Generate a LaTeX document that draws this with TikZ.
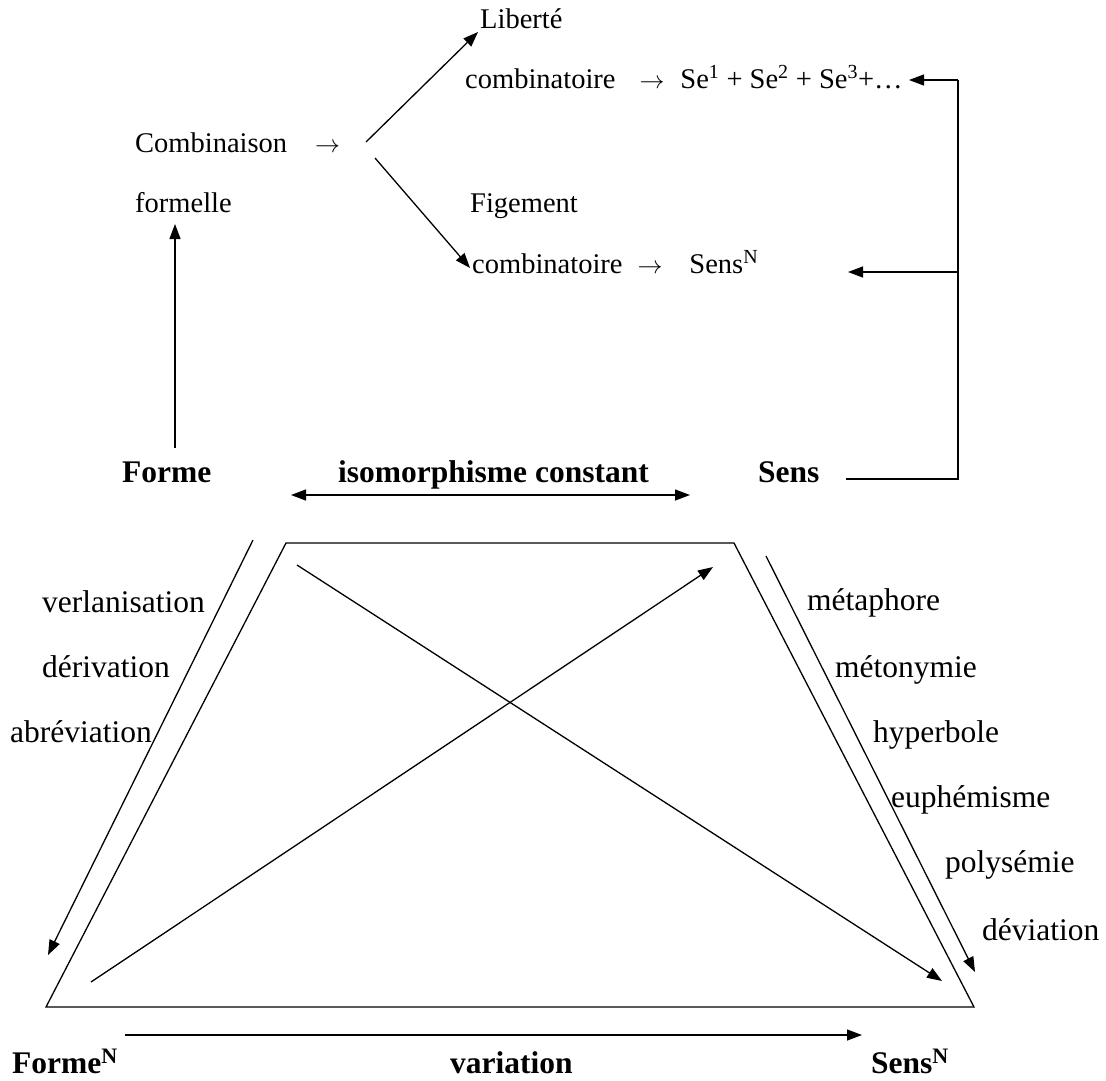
\documentclass[tikz,border=0pt]{standalone}
\usepackage{fontspec}
\setmainfont{Liberation Serif}
\usetikzlibrary{arrows.meta}
\newcommand{\rarr}[1]{{\fontsize{#1}{#1}\selectfont$\rightarrow$}}

\begin{document}
\begin{tikzpicture}[x=1pt, y=-1pt,
  lbl/.style={inner sep=0pt, anchor=base west, font=\fontsize{28.5}{30}\selectfont},
  lblbig/.style={inner sep=0pt, anchor=base west, font=\fontsize{31.5}{33}\selectfont},
  lblbold/.style={inner sep=0pt, anchor=base west, font=\fontsize{31.5}{33}\selectfont\bfseries},
  link/.style={line width=1.3pt},
  arr/.style={link, -{Triangle[length=15pt,width=11pt]}},
  dblarr/.style={link, {Triangle[length=15pt,width=11pt]}-{Triangle[length=15pt,width=11pt]}}]
  \useasboundingbox (0,0) rectangle (1106,1080);

  % upper scheme
  \node[lbl] (lib) at (480,28) {Liberté};
  \node[lbl] (libcomb) at (465,88) {combinatoire\hspace{24pt}\rarr{24}\hspace{16pt}Se\textsuperscript{1} + Se\textsuperscript{2} + Se\textsuperscript{3}+…};
  \node[lbl] (combi) at (135,152) {Combinaison\hspace{28pt}\rarr{27}};
  \node[lbl] (formelle) at (135,212) {formelle};
  \node[lbl] (fig) at (470,212) {Figement};
  \node[lbl] (figcomb) at (472,273) {combinatoire\hspace{15pt}\rarr{24}\hspace{27pt}Sens\textsuperscript{N}};

  \coordinate (split1) at (366,142);
  \coordinate (split2) at (375,158);
  \coordinate (libtip) at (478,32);
  \coordinate (figtip) at (470,268);
  \draw[arr] (split1) -- (libtip);
  \draw[arr] (split2) -- (figtip);

  % Forme / Sens
  \node[lblbold] (forme) at (122,482) {Forme};
  \node[lblbold] (iso) at (338,482) {isomorphisme constant};
  \node[lblbold] (sens) at (758,482) {Sens};

  \coordinate (formebot) at (175,448);
  \coordinate (formetip) at (175,224);
  \draw[arr] (formebot) -- (formetip);

  \coordinate (sensend) at (846,479);
  \coordinate (brbot) at (958,479);
  \coordinate (brtop) at (958,80);
  \coordinate (brmid) at (958,272);
  \coordinate (setip) at (909,80);
  \coordinate (sntip) at (848,272);
  \draw[link] (sensend) -- (brbot) -- (brtop);
  \draw[arr] (brtop) -- (setip);
  \draw[arr] (brmid) -- (sntip);

  \coordinate (isoL) at (291,495);
  \coordinate (isoR) at (690,495);
  \draw[dblarr] (isoL) -- (isoR);

  % trapezoid
  \coordinate (tl) at (286,543);
  \coordinate (tr) at (734,543);
  \coordinate (br) at (974,1007);
  \coordinate (bl) at (46,1007);
  \draw[link] (tl) -- (tr) -- (br) -- (bl) -- cycle;

  \coordinate (lftop) at (253,540);
  \coordinate (lftip) at (48,955);
  \coordinate (rttop) at (766,556);
  \coordinate (rttip) at (975,972);
  \draw[arr] (lftop) -- (lftip);
  \draw[arr] (rttop) -- (rttip);

  \coordinate (d1a) at (91,982);
  \coordinate (d1b) at (713,567);
  \coordinate (d2a) at (297,565);
  \coordinate (d2b) at (942,981);
  \draw[arr] (d1a) -- (d1b);
  \draw[arr] (d2a) -- (d2b);

  \coordinate (varL) at (125,1035);
  \coordinate (varR) at (862,1035);
  \draw[arr] (varL) -- (varR);

  % side labels
  \node[lblbig] (verl) at (42,612) {verlanisation};
  \node[lblbig] (deriv) at (42,677) {dérivation};
  \node[lblbig] (abrev) at (10,742) {abréviation};

  \node[lblbig] (meta) at (807,610) {métaphore};
  \node[lblbig] (meto) at (835,677) {métonymie};
  \node[lblbig] (hyper) at (873,742) {hyperbole};
  \node[lblbig] (euph) at (891,807) {euphémisme};
  \node[lblbig] (poly) at (945,872) {polysémie};
  \node[lblbig] (devi) at (982,940) {déviation};

  % bottom
  \node[lblbold] (formeN) at (12,1073) {Forme\textsuperscript{N}};
  \node[lblbold] (var) at (450,1073) {variation};
  \node[lblbold] (sensN) at (871,1073) {Sens\textsuperscript{N}};
\end{tikzpicture}
\end{document}
